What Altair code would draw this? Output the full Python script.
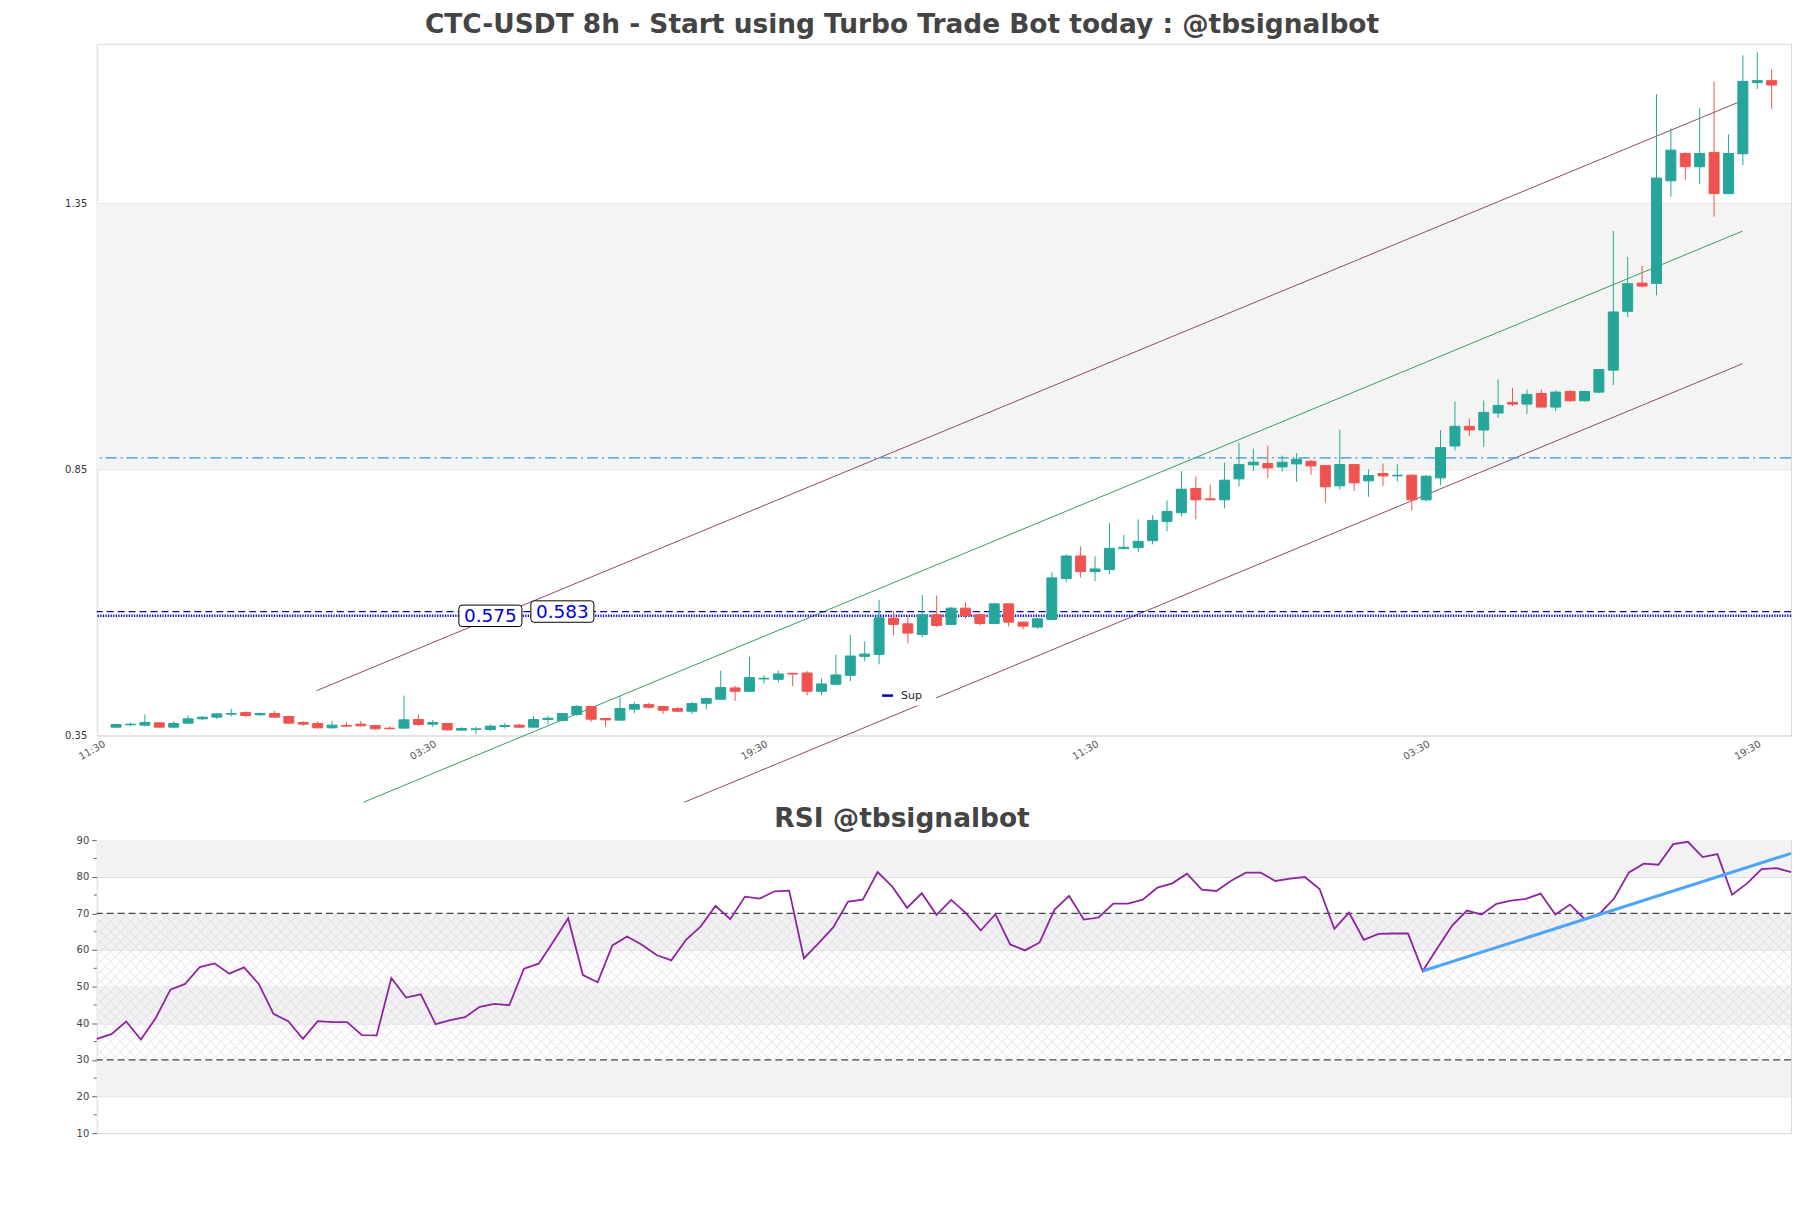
import altair as alt
import pandas as pd

TITLE = "CTC-USDT 8h - Start using Turbo Trade Bot today : @tbsignalbot"
RSI_TITLE = "RSI @tbsignalbot"

opens = [0.3656, 0.3700, 0.3694, 0.3738, 0.3656, 0.3731, 0.3813, 0.3844, 0.3900, 0.3931,
         0.3888, 0.3913, 0.3856, 0.3744, 0.3725, 0.3644, 0.3688, 0.3713, 0.3688, 0.3638,
         0.3638, 0.3800, 0.3713, 0.3725, 0.3600, 0.3613, 0.3613, 0.3669, 0.3694, 0.3656,
         0.3800, 0.3781, 0.3894, 0.4044, 0.3819, 0.3788, 0.3994, 0.4081, 0.4044, 0.4006,
         0.3956, 0.4106, 0.4181, 0.4394, 0.4331, 0.4563, 0.4556, 0.4669, 0.4675, 0.4331,
         0.4463, 0.4631, 0.4988, 0.5025, 0.5706, 0.5600, 0.5400, 0.5769, 0.5588, 0.5894,
         0.5769, 0.5606, 0.5975, 0.5631, 0.5538, 0.5681, 0.6450, 0.6875, 0.6581, 0.6619,
         0.7013, 0.7031, 0.7163, 0.7525, 0.7688, 0.8144, 0.7950, 0.7931, 0.8325, 0.8588,
         0.8613, 0.8550, 0.8606, 0.8656, 0.8575, 0.8194, 0.8594, 0.8288, 0.8425, 0.8381,
         0.8394, 0.7931, 0.8344, 0.8944, 0.9313, 0.9244, 0.9563, 0.9763, 0.9731, 0.9931,
         0.9675, 0.9969, 0.9794, 0.9956, 1.0369, 1.1475, 1.2006, 1.2000, 1.3931, 1.4444,
         1.4194, 1.4463, 1.3688, 1.4438, 1.5775, 1.5813]
highs = [0.3719, 0.3738, 0.3894, 0.3740, 0.3769, 0.3875, 0.3869, 0.3919, 0.4000, 0.3950,
         0.3931, 0.3963, 0.3856, 0.3769, 0.3769, 0.3775, 0.3750, 0.3775, 0.3700, 0.3669,
         0.4250, 0.3894, 0.3788, 0.3738, 0.3656, 0.3663, 0.3706, 0.3731, 0.3719, 0.3863,
         0.3869, 0.3925, 0.4069, 0.4056, 0.3819, 0.4238, 0.4131, 0.4113, 0.4056, 0.4031,
         0.4131, 0.4213, 0.4719, 0.4431, 0.4981, 0.4631, 0.4719, 0.4669, 0.4713, 0.4569,
         0.5019, 0.5394, 0.5269, 0.6050, 0.5838, 0.5738, 0.6144, 0.6131, 0.5913, 0.6006,
         0.5800, 0.5994, 0.5975, 0.5644, 0.5706, 0.6569, 0.6906, 0.7056, 0.6869, 0.7494,
         0.7269, 0.7563, 0.7644, 0.7919, 0.8469, 0.8369, 0.8219, 0.8631, 0.9006, 0.8894,
         0.8950, 0.8763, 0.8806, 0.8675, 0.8575, 0.9250, 0.8594, 0.8506, 0.8613, 0.8600,
         0.8413, 0.8400, 0.9238, 0.9781, 0.9456, 0.9800, 1.0194, 1.0038, 1.0006, 1.0006,
         0.9988, 0.9988, 0.9981, 1.0381, 1.2988, 1.2500, 1.2331, 1.5556, 1.4913, 1.4463,
         1.5294, 1.5800, 1.4800, 1.6288, 1.6344, 1.6025]
lows = [0.3644, 0.3675, 0.3669, 0.3656, 0.3638, 0.3719, 0.3794, 0.3806, 0.3856, 0.3844,
        0.3875, 0.3831, 0.3731, 0.3681, 0.3625, 0.3631, 0.3663, 0.3669, 0.3606, 0.3625,
        0.3625, 0.3681, 0.3656, 0.3594, 0.3588, 0.3525, 0.3581, 0.3631, 0.3638, 0.3644,
        0.3713, 0.3769, 0.3869, 0.3756, 0.3663, 0.3788, 0.3919, 0.4006, 0.3906, 0.3944,
        0.3900, 0.3994, 0.4181, 0.4150, 0.4319, 0.4475, 0.4500, 0.4425, 0.4256, 0.4256,
        0.4463, 0.4519, 0.4900, 0.4838, 0.5388, 0.5231, 0.5344, 0.5538, 0.5575, 0.5694,
        0.5569, 0.5594, 0.5550, 0.5494, 0.5506, 0.5681, 0.6381, 0.6469, 0.6400, 0.6531,
        0.7013, 0.6944, 0.7094, 0.7338, 0.7619, 0.7563, 0.7931, 0.7769, 0.8181, 0.8475,
        0.8344, 0.8463, 0.8269, 0.8400, 0.7881, 0.8125, 0.8100, 0.7988, 0.8194, 0.8275,
        0.7731, 0.7900, 0.8213, 0.8856, 0.9131, 0.8925, 0.9475, 0.9694, 0.9544, 0.9675,
        0.9600, 0.9781, 0.9775, 0.9931, 1.0088, 1.1369, 1.1925, 1.1775, 1.3631, 1.3950,
        1.3869, 1.3256, 1.3688, 1.4225, 1.5656, 1.5281]
closes = [0.3706, 0.3713, 0.3744, 0.3656, 0.3725, 0.3813, 0.3844, 0.3906, 0.3913, 0.3875,
          0.3913, 0.3844, 0.3731, 0.3713, 0.3644, 0.3694, 0.3675, 0.3681, 0.3625, 0.3625,
          0.3794, 0.3706, 0.3744, 0.3606, 0.3631, 0.3625, 0.3675, 0.3688, 0.3656, 0.3800,
          0.3825, 0.3913, 0.4044, 0.3806, 0.3794, 0.4006, 0.4081, 0.4031, 0.3975, 0.3956,
          0.4100, 0.4194, 0.4400, 0.4331, 0.4588, 0.4575, 0.4656, 0.4656, 0.4331, 0.4469,
          0.4638, 0.4994, 0.5031, 0.5713, 0.5588, 0.5425, 0.5769, 0.5569, 0.5894, 0.5756,
          0.5606, 0.5975, 0.5631, 0.5556, 0.5694, 0.6463, 0.6875, 0.6581, 0.6631, 0.7019,
          0.7038, 0.7150, 0.7544, 0.7713, 0.8131, 0.7931, 0.7931, 0.8300, 0.8594, 0.8638,
          0.8531, 0.8638, 0.8694, 0.8569, 0.8175, 0.8594, 0.8250, 0.8388, 0.8381, 0.8394,
          0.7931, 0.8375, 0.8913, 0.9313, 0.9244, 0.9575, 0.9706, 0.9731, 0.9913, 0.9675,
          0.9956, 0.9794, 0.9969, 1.0381, 1.1463, 1.1994, 1.1950, 1.3981, 1.4506, 1.4194,
          1.4444, 1.3688, 1.4444, 1.5800, 1.5813, 1.5731]

rsi = [35.76, 37.03, 40.48, 35.58, 41.38, 49.18, 50.73, 55.35, 56.35, 53.54,
       55.26, 50.73, 42.56, 40.57, 35.76, 40.57, 40.30, 40.30, 36.76, 36.67,
       52.36, 47.01, 47.91, 39.75, 40.84, 41.66, 44.47, 45.28, 44.92, 54.90,
       56.26, 62.34, 68.68, 53.17, 51.18, 61.25, 63.70, 61.43, 58.62, 57.17,
       62.79, 66.42, 72.04, 68.41, 74.58, 74.04, 76.03, 76.21, 57.71, 61.88,
       66.24, 73.22, 73.76, 81.29, 77.30, 71.50, 75.49, 69.59, 73.67, 70.05,
       65.33, 69.77, 61.52, 59.89, 62.06, 70.95, 74.76, 68.32, 68.87, 72.68,
       72.68, 73.76, 77.03, 78.21, 80.84, 76.49, 76.12, 78.93, 81.11, 81.11,
       78.84, 79.48, 79.93, 76.67, 65.78, 70.23, 62.79, 64.42, 64.51, 64.51,
       54.26, 60.52, 66.69, 70.77, 69.68, 72.59, 73.49, 73.95, 75.40, 69.68,
       72.40, 68.41, 69.86, 74.13, 81.20, 83.56, 83.29, 88.91, 89.55, 85.37,
       86.19, 75.12, 78.12, 82.11, 82.38, 81.29]

tick_idx = [-1, 22, 45, 68, 91, 114]
tick_labels = ["11:30", "03:30", "19:30", "11:30", "03:30", "19:30"]
price_ticks = [0.35, 0.85, 1.35]
zone_low, zone_high = 0.85, 1.35
cyan_level = 0.872
sup_dashed = 0.583
sup_dotted = 0.575
label_x = [26, 31]
label_vals = [0.575, 0.583]
label_text = ["0.575", "0.583"]
upper_x, upper_y = [13.93, 112.97], [0.4343, 1.5438]
mid_x, mid_y = [17.17, 112.97], [0.2244, 1.2983]
lower_x, lower_y = [39.47, 112.97], [0.2244, 1.0490]
legend_label = "Sup"

rsi_ticks = [10, 20, 30, 40, 50, 60, 70, 80, 90]
rsi_minor = [15, 25, 35, 45, 55, 65, 75, 85]
rsi_band_lo = [80, 60, 40, 20]
rsi_band_hi = [90, 70, 50, 30]
rsi_levels = [70, 30]
rsi_hatch_lo, rsi_hatch_hi = 30, 70
rsi_trend_x, rsi_trend_y = [90, 115], [54.26, 86.37]

W, H1, H2 = 1700, 694, 294
FONT = "DejaVu Sans"

# ---------------- price panel ----------------
candles = pd.DataFrame({"i": list(range(len(opens))), "o": opens, "h": highs,
                        "l": lows, "c": closes})
candles["dir"] = ["up" if c >= o else "down" for o, c in zip(opens, closes)]

xs = alt.Scale(domain=[-1, 116], nice=False, zero=False)
ys = alt.Scale(domain=[0.35, 1.6506], nice=False, zero=False)
label_expr = ("[" + ",".join(f"'{t}'" for t in tick_labels) + "][indexof(["
              + ",".join(str(v) for v in tick_idx) + "], datum.value)]")
x_axis = alt.Axis(values=tick_idx, labelExpr=label_expr, labelAngle=-30, labelAlign="right",
                  labelBaseline="top", ticks=False, domain=False, grid=False, labelFontSize=10,
                  labelColor="#555555", labelPadding=3, title=None, labelFont=FONT)
y_axis = alt.Axis(values=price_ticks, format=".2f", ticks=False, domain=False, grid=True,
                  gridColor="#dddddd", labelFontSize=10, labelColor="#333333", labelPadding=10,
                  title=None, labelFont=FONT)
cscale = alt.Scale(domain=["up", "down"], range=["#26a69a", "#ef5350"])


def X(f):
    return alt.X(f, scale=xs, axis=x_axis)


def Y(f):
    return alt.Y(f, scale=ys, axis=y_axis)


band = alt.Chart(pd.DataFrame({"lo": [zone_low], "hi": [zone_high]})).mark_rect(
    color="#f4f4f4").encode(x=alt.value(0), x2=alt.value(W), y=Y("lo:Q"), y2="hi:Q")

wicks = alt.Chart(candles).mark_rule(strokeWidth=1).encode(
    x=X("i:Q"), y=Y("l:Q"), y2="h:Q",
    color=alt.Color("dir:N", scale=cscale, legend=None))
bodies = alt.Chart(candles).mark_bar(width=10, strokeWidth=1).encode(
    x=X("i:Q"), y=Y("o:Q"), y2="c:Q",
    color=alt.Color("dir:N", scale=cscale, legend=None),
    stroke=alt.Stroke("dir:N", scale=cscale, legend=None))


def hline(v, col, dash, sw):
    return alt.Chart(pd.DataFrame({"v": [v]})).mark_rule(
        color=col, strokeDash=dash, strokeWidth=sw).encode(y=Y("v:Q"))


cyan = hline(cyan_level, "#2f9ad8", [11, 4, 2, 4], 1.2)
dashed = hline(sup_dashed, "#0a0aa8", [7, 4], 1.3)
dotted = hline(sup_dotted, "#0c0cc4", [1.3, 1.3], 2.6)


def tline(xv, yv, col):
    d = pd.DataFrame({"x": xv, "y": yv})
    return alt.Chart(d).mark_line(color=col, strokeWidth=1, clip=False).encode(
        x=X("x:Q"), y=Y("y:Q"))


upper = tline(upper_x, upper_y, "#8a4d6a")
mid = tline(mid_x, mid_y, "#34a05f")
lower = tline(lower_x, lower_y, "#8a4d6a")

labels_df = pd.DataFrame({"x": label_x, "y": label_vals, "t": label_text})
BOX = ("M-0.9,-0.34 L0.9,-0.34 Q1,-0.34 1,-0.24 L1,0.24 Q1,0.34 0.9,0.34 "
       "L-0.9,0.34 Q-1,0.34 -1,0.24 L-1,-0.24 Q-1,-0.34 -0.9,-0.34 Z")
lbox = alt.Chart(labels_df).mark_point(shape=BOX, size=4000, filled=True, fill="white",
                                       stroke="black", strokeWidth=1, opacity=1).encode(
    x=X("x:Q"), y=Y("y:Q"))
ltext = alt.Chart(labels_df).mark_text(fontSize=18.5, color="#0000dd", font=FONT).encode(
    x=X("x:Q"), y=Y("y:Q"), text="t:N")

leg_df = pd.DataFrame({"t": [legend_label]})
leg_box = alt.Chart(leg_df).mark_rect(fill="white").encode(
    x=alt.value(780), x2=alt.value(842), y=alt.value(644), y2=alt.value(664))
leg_line = alt.Chart(leg_df).mark_rule(color="#0000b0", strokeWidth=2.5).encode(
    x=alt.value(788), x2=alt.value(799), y=alt.value(654))
leg_text = alt.Chart(leg_df).mark_text(
    fontSize=11, font=FONT, align="left", color="#222222").encode(
    x=alt.value(807), y=alt.value(654), text="t:N")

top = alt.layer(band, upper, mid, lower, cyan, dashed, dotted, wicks, bodies, lbox, ltext,
                leg_box, leg_line, leg_text).properties(
    width=W, height=H1,
    title=alt.TitleParams(TITLE, fontSize=26.5, font=FONT, fontWeight="bold", color="#444444",
                          anchor="middle", dx=-42, offset=5))

# ---------------- RSI panel ----------------
rx = alt.Scale(domain=[0, 115], nice=False, zero=False)
ry = alt.Scale(domain=[10, 90], nice=False, zero=False)
r_axis = alt.Axis(values=rsi_ticks, tickSize=5, tickColor="#666666", labelPadding=3,
                  grid=True, gridColor="#dddddd", domain=False, labelFontSize=10,
                  labelColor="#444444", title=None, labelFont=FONT)


def RX(f):
    return alt.X(f, scale=rx, axis=None)


def RY(f):
    return alt.Y(f, scale=ry, axis=r_axis)


rbands = alt.Chart(pd.DataFrame({"lo": rsi_band_lo, "hi": rsi_band_hi})).mark_rect(
    color="#f2f2f2").encode(x=alt.value(0), x2=alt.value(W), y=RY("lo:Q"), y2="hi:Q")

hatch_df = pd.DataFrame({"k": [round(-10.5 + 0.68 * n, 2) for n in range(186)]})
hatch_df["k2"] = hatch_df["k"] + 9.95
hatch_df["lo"] = rsi_hatch_lo
hatch_df["hi"] = rsi_hatch_hi
hatch1 = alt.Chart(hatch_df).mark_rule(color="#d9cfe1", strokeWidth=0.6, clip=True).encode(
    x=RX("k:Q"), x2="k2:Q", y=RY("lo:Q"), y2="hi:Q")
hatch2 = alt.Chart(hatch_df).mark_rule(color="#d9cfe1", strokeWidth=0.6, clip=True).encode(
    x=RX("k:Q"), x2="k2:Q", y=RY("hi:Q"), y2="lo:Q")

levels = alt.Chart(pd.DataFrame({"v": rsi_levels})).mark_rule(
    color="#444444", strokeDash=[7, 4], strokeWidth=1.2).encode(y=RY("v:Q"))

minor = alt.Chart(pd.DataFrame({"m": rsi_minor})).mark_rule(
    color="#666666", strokeWidth=1, clip=False).encode(
    y=RY("m:Q"), x=alt.value(-3), x2=alt.value(0))

rsi_df = pd.DataFrame({"k": list(range(len(rsi))), "r": rsi})
rline = alt.Chart(rsi_df).mark_line(color="#8e24a0", strokeWidth=1.8).encode(
    x=RX("k:Q"), y=RY("r:Q"))
rtrend = alt.Chart(pd.DataFrame({"x": rsi_trend_x, "y": rsi_trend_y})).mark_line(
    color="#4da6f5", strokeWidth=3).encode(x=RX("x:Q"), y=RY("y:Q"))

bottom = alt.layer(rbands, hatch1, hatch2, levels, minor, rline, rtrend).properties(
    width=W, height=H2,
    title=alt.TitleParams(RSI_TITLE, fontSize=26.5, font=FONT, fontWeight="bold",
                          color="#444444", anchor="middle", dx=-42, offset=3))

chart = alt.vconcat(top, bottom, spacing=0).properties(
    padding={"left": 56, "top": 2, "right": 5, "bottom": 5}
).configure_view(stroke="#d9d9d9")

chart.save("out.html", embed_options={"renderer": "svg", "actions": False})
